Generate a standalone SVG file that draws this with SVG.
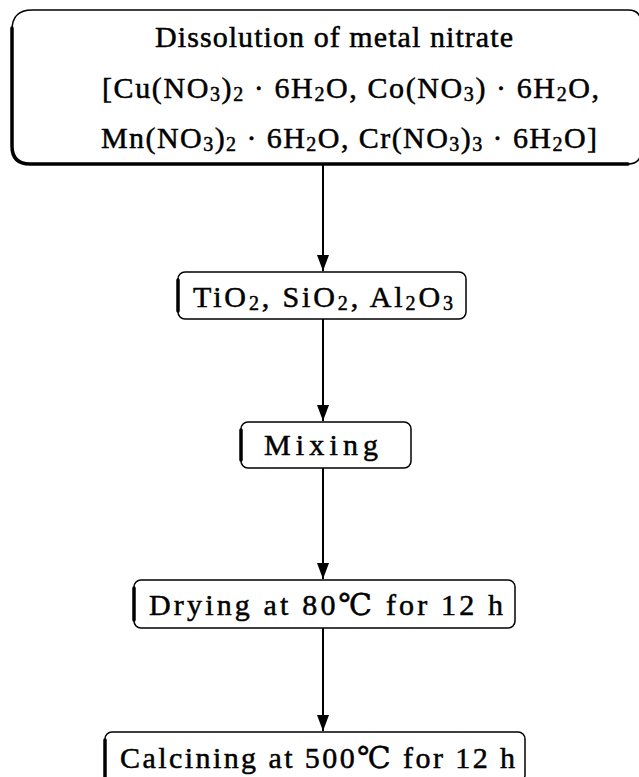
<svg xmlns="http://www.w3.org/2000/svg" width="639" height="777" viewBox="0 0 639 777">
<defs>
<marker id="ah" viewBox="0 0 16 12" refX="16" refY="6" markerWidth="16" markerHeight="12" markerUnits="userSpaceOnUse" orient="auto">
<path d="M0,0 L16,6 L0,12 Z" fill="#000"/>
</marker>
<style>
.box{fill:#fff;stroke:#000;stroke-width:1.5}
.edge{fill:none;stroke:#000;stroke-width:3.5;stroke-linecap:round}
.t{font-family:"Liberation Serif","DejaVu Serif",serif;fill:#000;stroke:#000;stroke-width:0.5}
.big{font-size:30px}
.sm{font-size:30px}
.conn{stroke:#000;stroke-width:2;fill:none;marker-end:url(#ah)}
</style>
</defs>
<rect width="639" height="777" fill="#fff"/>
<g id="connectors">
<line class="conn" x1="323" y1="164" x2="323" y2="271"/>
<line class="conn" x1="323" y1="319" x2="323" y2="421"/>
<line class="conn" x1="323" y1="468" x2="323" y2="579"/>
<line class="conn" x1="323" y1="628" x2="323" y2="731"/>
</g>
<g id="node-dissolution">
<path class="box" d="M32,10 H628 Q641,10 641,23 V151 Q641,164 628,164 H32 Q12,164 12,144 V30 Q12,10 32,10 Z"/>
<path class="edge" d="M12,28 V146 Q12,164 30,164 H628"/>
<text class="t big" x="155" y="47" textLength="358" lengthAdjust="spacing">Dissolution of metal nitrate</text>
<text class="t big" x="102" y="98" textLength="497" lengthAdjust="spacing">[Cu(NO<tspan font-size="20" dy="3">3</tspan><tspan dy="-3">)</tspan><tspan font-size="20" dy="3">2</tspan><tspan dy="-3"> · 6H</tspan><tspan font-size="20" dy="3">2</tspan><tspan dy="-3">O, Co(NO</tspan><tspan font-size="20" dy="3">3</tspan><tspan dy="-3">) · 6H</tspan><tspan font-size="20" dy="3">2</tspan><tspan dy="-3">O,</tspan></text>
<text class="t big" x="101" y="148" textLength="496" lengthAdjust="spacing">Mn(NO<tspan font-size="20" dy="3">3</tspan><tspan dy="-3">)</tspan><tspan font-size="20" dy="3">2</tspan><tspan dy="-3"> · 6H</tspan><tspan font-size="20" dy="3">2</tspan><tspan dy="-3">O, Cr(NO</tspan><tspan font-size="20" dy="3">3</tspan><tspan dy="-3">)</tspan><tspan font-size="20" dy="3">3</tspan><tspan dy="-3"> · 6H</tspan><tspan font-size="20" dy="3">2</tspan><tspan dy="-3">O]</tspan></text>
</g>
<g id="node-support">
<rect class="box" x="178" y="272" width="288" height="47" rx="7"/>
<path class="edge" d="M178,280 V311"/>
<text class="t sm" x="193" y="307" textLength="260" lengthAdjust="spacing">TiO<tspan font-size="20" dy="3">2</tspan><tspan dy="-3">, SiO</tspan><tspan font-size="20" dy="3">2</tspan><tspan dy="-3">, Al</tspan><tspan font-size="20" dy="3">2</tspan><tspan dy="-3">O</tspan><tspan font-size="20" dy="3">3</tspan></text>
</g>
<g id="node-mixing">
<rect class="box" x="241" y="422" width="170" height="46" rx="7"/>
<path class="edge" d="M241,430 V460"/>
<text class="t sm" x="264" y="455" textLength="114" lengthAdjust="spacing">Mixing</text>
</g>
<g id="node-drying">
<rect class="box" x="134" y="580" width="381" height="48" rx="7"/>
<path class="edge" d="M134,588 V620"/>
<text class="t sm" x="149" y="615" textLength="354" lengthAdjust="spacing">Drying at 80℃ for 12 h</text>
</g>
<g id="node-calcining">
<rect class="box" x="105" y="732" width="420" height="50" rx="7"/>
<path class="edge" d="M105,740 V777"/>
<text class="t sm" x="120" y="768" textLength="395" lengthAdjust="spacing">Calcining at 500℃ for 12 h</text>
</g>
</svg>
